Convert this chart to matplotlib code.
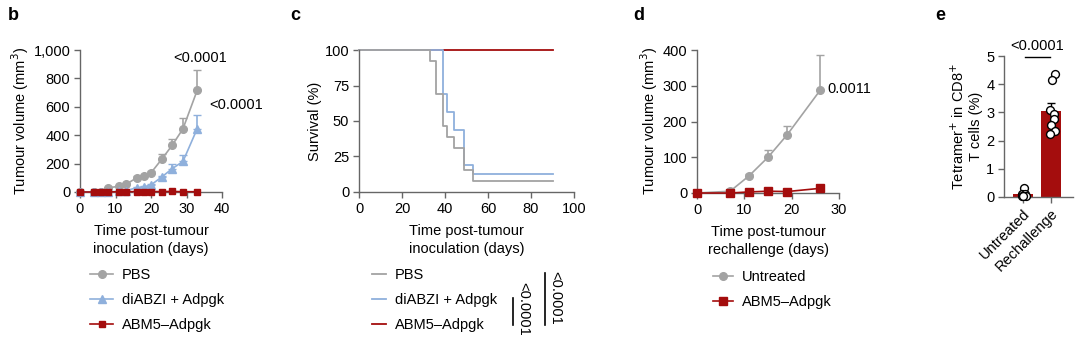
import numpy as np
import matplotlib
matplotlib.use("Agg")
import matplotlib.pyplot as plt
from matplotlib.lines import Line2D

plt.rcParams['font.family'] = ['Liberation Sans', 'DejaVu Sans']
plt.rcParams['font.size'] = 10.5
FS = 10.5

GREY = '#a3a3a3'
BLUE = '#8fb0dc'
RED = '#a40d0d'
SPINE = '#666666'

# --- panel b: tumour growth ---
b_days = [0, 4, 6, 8, 11, 13, 16, 18, 20, 23, 26, 29, 33]
b_pbs = [0, 0, 2, 30, 40, 55, 100, 110, 135, 230, 330, 445, 715]
b_pbs_err = [0, 0, 0, 5, 5, 8, 10, 10, 12, 40, 40, 75, 145]
b_di = [0, 0, 0, 0, 5, 10, 30, 35, 50, 105, 165, 215, 445]
b_di_err = [0, 0, 0, 0, 2, 3, 5, 5, 8, 10, 35, 45, 95]
b_abm = [0, 0, 0, 0, 2, 3, 2, 2, 3, 3, 4, 2, 2]

# --- panel c: survival (step changes) ---
c_pbs_t = [0, 33, 36, 39, 41, 44, 49, 53, 90]
c_pbs_s = [100, 92.3, 69.2, 46.2, 38.5, 30.8, 15.4, 7.7, 7.7]
c_di_t = [0, 39, 41, 44, 49, 53, 90]
c_di_s = [100, 68.8, 56.3, 43.8, 18.8, 12.5, 12.5]
c_abm_t = [0, 90]
c_abm_s = [100, 100]

# --- panel d: rechallenge ---
d_days = [0, 7, 11, 15, 19, 26]
d_unt = [0, 5, 48, 100, 162, 287]
d_unt_err = [0, 2, 5, 20, 26, 98]
d_abm = [0, 0, 3, 5, 4, 13]
d_abm_err = [0, 0, 1, 1, 1, 6]

# --- panel e: tetramer ---
e_groups = ['Untreated', 'Rechallenge']
e_unt_pts = [0.32, 0.12, 0.1, 0.05, 0.05, 0.02]
e_rec_pts = [4.35, 4.15, 3.1, 2.95, 2.75, 2.55, 2.35, 2.25]
e_means = [0.1, 3.05]
e_err = [0.05, 0.3]
e_unt_jit = [0.02, -0.05, 0.08, -0.02, 0.1, 0.0]
e_rec_jit = [0.15, 0.05, -0.03, 0.12, 0.1, 0.0, 0.15, -0.02]

W, H = 1080, 346
fig = plt.figure(figsize=(W / 100, H / 100), dpi=100)


def px_axes(left, top, right, bottom):
    return fig.add_axes([left / W, 1 - bottom / H, (right - left) / W, (bottom - top) / H])


def style(ax):
    for s in ['top', 'right']:
        ax.spines[s].set_visible(False)
    for s in ['left', 'bottom']:
        ax.spines[s].set_color(SPINE)
        ax.spines[s].set_linewidth(1)
    ax.tick_params(direction='out', length=4, width=1, color=SPINE, pad=3, labelsize=FS)


def legend_at(ax, handles, labels, x, y, hl=1.6, tp=0.6):
    ax.legend(handles, labels, frameon=False, loc='upper left', bbox_to_anchor=(x / W, 1 - y / H),
              bbox_transform=fig.transFigure, handlelength=hl, labelspacing=0.75,
              fontsize=FS, borderaxespad=0, handletextpad=tp)


# panel b
ax = px_axes(80, 50, 222, 192)
style(ax)
ax.errorbar(b_days, b_pbs, yerr=[np.zeros(len(b_pbs)), b_pbs_err], color=GREY, marker='o',
            ms=5.5, lw=1.2, capsize=3, elinewidth=1.2, clip_on=False, zorder=3)
ax.errorbar(b_days, b_di, yerr=[np.zeros(len(b_di)), b_di_err], color=BLUE, marker='^',
            ms=5.5, lw=1.2, capsize=3, elinewidth=1.2, clip_on=False, zorder=4)
ax.plot(b_days, b_abm, color=RED, marker='s', ms=5, lw=1.2, clip_on=False, zorder=5)
ax.set_xlim(0, 40)
ax.set_ylim(0, 1000)
ax.set_xticks([0, 10, 20, 30, 40])
ax.set_yticks([0, 200, 400, 600, 800, 1000])
ax.set_yticklabels(['0', '200', '400', '600', '800', '1,000'])
ax.set_xlabel('Time post-tumour\ninoculation (days)', fontsize=FS, labelpad=6, linespacing=1.35)
ax.set_ylabel('Tumour volume (mm$^3$)', fontsize=FS, labelpad=2)
ax.text(33.8, 945, '<0.0001', ha='center', va='center', fontsize=FS)
ax.text(44.0, 615, '<0.0001', ha='center', va='center', fontsize=FS, clip_on=False)
hb = [Line2D([], [], color=GREY, marker='o', ms=5.5, lw=1.2),
      Line2D([], [], color=BLUE, marker='^', ms=5.5, lw=1.2),
      Line2D([], [], color=RED, marker='s', ms=5, lw=1.2)]
legend_at(ax, hb, ['PBS', 'diABZI + Adpgk', 'ABM5–Adpgk'], 84, 262)
fig.text(8 / W, 1 - 15 / H, 'b', fontsize=13, fontweight='bold', va='center')

# panel c
ax = px_axes(359, 50, 574, 192)
style(ax)
ax.step(c_abm_t, c_abm_s, where='post', color=RED, lw=1.3, clip_on=False)
ax.step(c_di_t, c_di_s, where='post', color=BLUE, lw=1.3, clip_on=False)
ax.step(c_pbs_t, c_pbs_s, where='post', color=GREY, lw=1.3, clip_on=False)
ax.set_xlim(0, 100)
ax.set_ylim(0, 100)
ax.set_xticks([0, 20, 40, 60, 80, 100])
ax.set_yticks([0, 25, 50, 75, 100])
ax.set_xlabel('Time post-tumour\ninoculation (days)', fontsize=FS, labelpad=6, linespacing=1.35)
ax.set_ylabel('Survival (%)', fontsize=FS, labelpad=2)
hc = [Line2D([], [], color=GREY, lw=1.3),
      Line2D([], [], color=BLUE, lw=1.3),
      Line2D([], [], color=RED, lw=1.3)]
legend_at(ax, hc, ['PBS', 'diABZI + Adpgk', 'ABM5–Adpgk'], 366, 262, hl=1.0, tp=0.6)
fig.add_artist(Line2D([513 / W, 513 / W], [1 - 298 / H, 1 - 325 / H], color='black', lw=1.2))
fig.add_artist(Line2D([545 / W, 545 / W], [1 - 273 / H, 1 - 325 / H], color='black', lw=1.2))
fig.text(523 / W, 1 - 309 / H, '<0.0001', rotation=-90, ha='center', va='center', fontsize=FS)
fig.text(555 / W, 1 - 298 / H, '<0.0001', rotation=-90, ha='center', va='center', fontsize=FS)
fig.text(290 / W, 1 - 15 / H, 'c', fontsize=13, fontweight='bold', va='center')

# panel d
ax = px_axes(697, 50, 839, 193)
style(ax)
ax.errorbar(d_days, d_unt, yerr=[np.zeros(len(d_unt)), d_unt_err], color=GREY, marker='o',
            ms=5.5, lw=1.2, capsize=3, elinewidth=1.2, clip_on=False, zorder=3)
ax.errorbar(d_days, d_abm, yerr=[np.zeros(len(d_abm)), d_abm_err], color=RED, marker='s',
            ms=5.5, lw=1.2, capsize=3, elinewidth=1.2, clip_on=False, zorder=4)
ax.set_xlim(0, 30)
ax.set_ylim(0, 400)
ax.set_xticks([0, 10, 20, 30])
ax.set_yticks([0, 100, 200, 300, 400])
ax.set_xlabel('Time post-tumour\nrechallenge (days)', fontsize=FS, labelpad=6, linespacing=1.35)
ax.set_ylabel('Tumour volume (mm$^3$)', fontsize=FS, labelpad=2)
ax.text(27.6, 290, '0.0011', ha='left', va='center', fontsize=FS, clip_on=False)
hd = [Line2D([], [], color=GREY, marker='o', ms=5.5, lw=1.2),
      Line2D([], [], color=RED, marker='s', ms=5.5, lw=1.2)]
legend_at(ax, hd, ['Untreated', 'ABM5–Adpgk'], 707, 264, hl=1.4, tp=0.6)
fig.text(633 / W, 1 - 15 / H, 'd', fontsize=13, fontweight='bold', va='center')

# panel e
ax = px_axes(1004, 56, 1073, 197)
style(ax)
xpos = np.arange(len(e_groups))
ax.bar(xpos, e_means, width=0.72, color=RED, zorder=1)
ax.errorbar(xpos, e_means, yerr=[[0, 0], e_err], fmt='none', ecolor='black', capsize=3,
            elinewidth=1, zorder=2)
ax.scatter(np.array(e_unt_jit) + 0, e_unt_pts, s=32, facecolor='white', edgecolor='black',
           lw=1, zorder=3, clip_on=False)
ax.scatter(np.array(e_rec_jit) + 1, e_rec_pts, s=32, facecolor='white', edgecolor='black',
           lw=1, zorder=3, clip_on=False)
ax.set_xlim(-0.68, 1.79)
ax.set_ylim(0, 5)
ax.set_yticks([0, 1, 2, 3, 4, 5])
ax.set_xticks(xpos)
ax.set_xticklabels(e_groups, rotation=45, ha='right', rotation_mode='anchor', fontsize=FS)
ax.set_ylabel('Tetramer$^{+}$ in CD8$^{+}$\nT cells (%)', fontsize=FS, labelpad=2)
ax.plot([0.07, 0.95], [4.97, 4.97], color='black', lw=1, clip_on=False)
ax.text(0.5, 5.35, '<0.0001', ha='center', va='center', fontsize=FS, clip_on=False)
fig.text(935 / W, 1 - 15 / H, 'e', fontsize=13, fontweight='bold', va='center')

fig.savefig('out.png', dpi=100)
